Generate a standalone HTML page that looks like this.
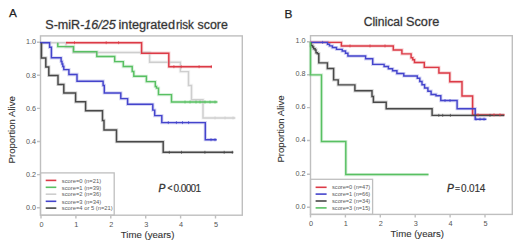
<!DOCTYPE html>
<html><head><meta charset="utf-8"><style>
html,body{margin:0;padding:0;background:#fff;width:520px;height:246px;overflow:hidden}
svg{display:block}
text{font-family:"Liberation Sans",sans-serif}
</style></head><body>
<svg width="520" height="246" viewBox="0 0 520 246">
<rect width="520" height="246" fill="#fff"/>
<text x="9.0" y="17.2" font-size="11.8" fill="#222" stroke="#222" stroke-width="0.25">A</text>
<text x="45.3" y="28.7" font-size="12.3" fill="#333" textLength="70.5" lengthAdjust="spacingAndGlyphs" stroke="#333" stroke-width="0.9" stroke-opacity="0.3">S-miR-<tspan font-style="italic">16/25</tspan></text>
<text x="118.5" y="28.7" font-size="12.3" fill="#333" textLength="56.5" lengthAdjust="spacingAndGlyphs" stroke="#333" stroke-width="0.9" stroke-opacity="0.3">integrated</text>
<text x="175.9" y="28.7" font-size="12.3" fill="#333" textLength="18" lengthAdjust="spacingAndGlyphs" stroke="#333" stroke-width="0.9" stroke-opacity="0.3">risk</text>
<text x="197.5" y="28.7" font-size="12.3" fill="#333" textLength="30.3" lengthAdjust="spacingAndGlyphs" stroke="#333" stroke-width="0.9" stroke-opacity="0.3">score</text>
<g fill="none" stroke="#bfbfbf" stroke-width="1.4">
<rect x="40.5" y="35.9" width="201.8" height="179.3"/>
<path d="M37.0,42.2H40.5M37.0,75.3H40.5M37.0,108.4H40.5M37.0,141.5H40.5M37.0,174.6H40.5M37.0,207.7H40.5"/>
<path d="M41,215.2V218.39999999999998M75.9,215.2V218.39999999999998M110.8,215.2V218.39999999999998M145.7,215.2V218.39999999999998M180.6,215.2V218.39999999999998M215.5,215.2V218.39999999999998"/>
</g>
<g font-size="7.2" fill="#555" text-anchor="end">
<text x="36.1" y="44.4">1.0</text>
<text x="36.1" y="77.5">0.8</text>
<text x="36.1" y="110.6">0.6</text>
<text x="36.1" y="143.7">0.4</text>
<text x="36.1" y="176.8">0.2</text>
<text x="36.1" y="209.9">0.0</text>
</g><g font-size="7.3" fill="#555" text-anchor="middle">
<text x="41.5" y="227.0">0</text>
<text x="76.4" y="227.0">1</text>
<text x="111.3" y="227.0">2</text>
<text x="146.2" y="227.0">3</text>
<text x="181.1" y="227.0">4</text>
<text x="216.0" y="227.0">5</text>
</g>
<text x="147.6" y="237.9" font-size="9.6" fill="#333" text-anchor="middle" stroke="#333" stroke-width="0.1">Time (years)</text>
<text transform="translate(14.5,129.8) rotate(-90)" font-size="9.6" fill="#333" text-anchor="middle" stroke="#333" stroke-width="0.1">Proportion Alive</text>
<g fill="#333" stroke="#333"><text x="158.5" y="191.9" font-size="10.3" font-style="italic" stroke-width="0.35">P</text><text x="167.4" y="191.0" font-size="8.3" stroke-width="0.3">&lt;</text><text x="173.6" y="191.9" font-size="10.1" stroke-width="0.15" textLength="27.6" lengthAdjust="spacing">0.0001</text></g>
<rect x="40.5" y="172.9" width="73.7" height="42.3" fill="none" stroke="#bfbfbf" stroke-width="1.3"/>
<path d="M45.7,180.4H56.3" stroke="#dc3a46" stroke-width="1.6"/>
<text x="61.8" y="182.6" font-size="5.8" fill="#5a5a5a">score=0 (n=21)</text>
<path d="M45.7,187.3H56.3" stroke="#58c062" stroke-width="1.6"/>
<text x="61.8" y="189.5" font-size="5.8" fill="#5a5a5a">score=1 (n=39)</text>
<path d="M45.7,194.2H56.3" stroke="#cecece" stroke-width="1.6"/>
<text x="61.8" y="196.4" font-size="5.8" fill="#5a5a5a">score=2 (n=36)</text>
<path d="M45.7,201.3H56.3" stroke="#4444cc" stroke-width="1.6"/>
<text x="61.8" y="203.5" font-size="5.8" fill="#5a5a5a">score=3 (n=34)</text>
<path d="M45.7,208.1H56.3" stroke="#484848" stroke-width="1.6"/>
<text x="61.8" y="210.3" font-size="5.8" fill="#5a5a5a">score=4 or 5 (n=21)</text>
<g transform="translate(0,0.4)">
<g fill="none" stroke-width="3.3" stroke-opacity="0.22">
<path stroke="#cecece" d="M40,42.3H66V46.6H73.5V52H149.6V61.8H180.4V71.2H188.5V85H191.5V99.3H203V117.5H235.3"/>
<path stroke="#dc3a46" d="M66,42.3H141.6V52.8H168.8V66.3H212"/>
<path stroke="#58c062" d="M57.8,42.3V46.2H73.5V51.4H96.8V56H114.7V61.2H123.3V66.1H132.2V71H133.8V75.9H146.4V81.2H155.3V86H156.5V87.7H158.5V94.2H171.5V101.6H217.4"/>
<path stroke="#4444cc" d="M40,42.3H49.6V46.9H51.4V57.4H61.1V61H62V63.5H62.8V66H63.8V69.2H68.9V74.1H77V80.8H103.1V85H104.3V92.5H120.8V98.2H127.6V103.9H152.8V109.7H154.7V115.2H161.8V122.2H205.3V139.3H216.7"/>
<path stroke="#484848" d="M41.5,42.3V57.5H45.8V66.5H48.8V75H58V84H63.8V92.6H75.6V101.4H85.6V110.3H102.5V120H104V129.5H116.5V141.3H163.2V151.9H233.3"/>
</g>
<g fill="none" stroke-width="1.45">
<path stroke="#cecece" d="M40,42.3H66V46.6H73.5V52H149.6V61.8H180.4V71.2H188.5V85H191.5V99.3H203V117.5H235.3"/>
<path stroke="#dc3a46" d="M66,42.3H141.6V52.8H168.8V66.3H212"/>
<path stroke="#58c062" d="M57.8,42.3V46.2H73.5V51.4H96.8V56H114.7V61.2H123.3V66.1H132.2V71H133.8V75.9H146.4V81.2H155.3V86H156.5V87.7H158.5V94.2H171.5V101.6H217.4"/>
<path stroke="#4444cc" d="M40,42.3H49.6V46.9H51.4V57.4H61.1V61H62V63.5H62.8V66H63.8V69.2H68.9V74.1H77V80.8H103.1V85H104.3V92.5H120.8V98.2H127.6V103.9H152.8V109.7H154.7V115.2H161.8V122.2H205.3V139.3H216.7"/>
<path stroke="#484848" d="M41.5,42.3V57.5H45.8V66.5H48.8V75H58V84H63.8V92.6H75.6V101.4H85.6V110.3H102.5V120H104V129.5H116.5V141.3H163.2V151.9H233.3"/>
</g>
<g fill="none" stroke-width="0.9" stroke-opacity="0.8">
<path stroke="#dc3a46" d="M74.5,40.8V43.8M106.2,40.8V43.8M118.6,40.8V43.8M173.9,64.8V67.8M181.2,64.8V67.8M199.1,64.8V67.8M211.3,64.8V67.8"/>
<path stroke="#58c062" d="M185,100.1V103.1M190,100.1V103.1M196,100.1V103.1M200,100.1V103.1M205,100.1V103.1M210,100.1V103.1M215,100.1V103.1"/>
<path stroke="#cecece" d="M215,116.0V119.0M225,116.0V119.0M233,116.0V119.0"/>
<path stroke="#4444cc" d="M168.3,120.7V123.7M176.4,120.7V123.7M182.5,120.7V123.7M188.6,120.7V123.7M211,137.8V140.8M215,137.8V140.8"/>
<path stroke="#484848" d="M169.3,150.4V153.4M181.5,150.4V153.4M204.9,150.4V153.4M224.2,150.4V153.4M232.3,150.4V153.4"/>
</g></g>
<text x="284.6" y="18.3" font-size="11.8" fill="#222" stroke="#222" stroke-width="0.25">B</text>
<text x="363.7" y="26.0" font-size="12.3" fill="#333" textLength="39" lengthAdjust="spacingAndGlyphs" stroke="#333" stroke-width="0.9" stroke-opacity="0.3">Clinical</text>
<text x="406" y="26.0" font-size="12.3" fill="#333" textLength="33.2" lengthAdjust="spacingAndGlyphs" stroke="#333" stroke-width="0.9" stroke-opacity="0.3">Score</text>
<g fill="none" stroke="#bfbfbf" stroke-width="1.4">
<rect x="310.5" y="35.7" width="201.8" height="178.7"/>
<path d="M307.0,41.8H310.5M307.0,74.7H310.5M307.0,107.6H310.5M307.0,140.5H310.5M307.0,174.2H310.5M307.0,207.3H310.5"/>
<path d="M310.5,214.4V217.6M345.4,214.4V217.6M380.3,214.4V217.6M415.2,214.4V217.6M450.1,214.4V217.6M485,214.4V217.6"/>
</g>
<g font-size="7.2" fill="#555" text-anchor="end">
<text x="305.6" y="43.4">1.0</text>
<text x="305.6" y="76.3">0.8</text>
<text x="305.6" y="109.2">0.6</text>
<text x="305.6" y="142.1">0.4</text>
<text x="305.6" y="175.8">0.2</text>
<text x="305.6" y="208.9">0.0</text>
</g><g font-size="7.3" fill="#555" text-anchor="middle">
<text x="311.0" y="225.9">0</text>
<text x="345.9" y="225.9">1</text>
<text x="380.8" y="225.9">2</text>
<text x="415.7" y="225.9">3</text>
<text x="450.6" y="225.9">4</text>
<text x="485.5" y="225.9">5</text>
</g>
<text x="417.3" y="236.8" font-size="9.6" fill="#333" text-anchor="middle" stroke="#333" stroke-width="0.1">Time (years)</text>
<text transform="translate(284.3,129.0) rotate(-90)" font-size="9.6" fill="#333" text-anchor="middle" stroke="#333" stroke-width="0.1">Proportion Alive</text>
<g fill="#333" stroke="#333"><text x="446.9" y="191.6" font-size="10.3" font-style="italic" stroke-width="0.35">P</text><text x="455.0" y="191.4" font-size="8.6" stroke-width="0.2">=</text><text x="461.1" y="191.6" font-size="10.0" stroke-width="0.15" textLength="24.2" lengthAdjust="spacing">0.014</text></g>
<rect x="310.5" y="179.3" width="62.1" height="35.1" fill="none" stroke="#bfbfbf" stroke-width="1.3"/>
<path d="M315.6,187.3H326.6" stroke="#dc3a46" stroke-width="1.6"/>
<text x="332" y="189.3" font-size="5.65" fill="#5a5a5a">score=0 (n=47)</text>
<path d="M315.6,194.1H326.6" stroke="#4444cc" stroke-width="1.6"/>
<text x="332" y="196.1" font-size="5.65" fill="#5a5a5a">score=1 (n=66)</text>
<path d="M315.6,201H326.6" stroke="#484848" stroke-width="1.6"/>
<text x="332" y="203.0" font-size="5.65" fill="#5a5a5a">score=2 (n=34)</text>
<path d="M315.6,207.9H326.6" stroke="#58c062" stroke-width="1.6"/>
<text x="332" y="209.9" font-size="5.65" fill="#5a5a5a">score=3 (n=15)</text>
<g transform="translate(0,0.15)">
<g fill="none" stroke-width="3.3" stroke-opacity="0.22">
<path stroke="#dc3a46" d="M310.5,42.2H341.4V45.8H393.3V49.8H401.9V53.7H411.1V57.6H412.8V59.5H414.5V62.3H424.3V67.2H438.9V72.8H449.8V81.6H462V95.9H472.6V114.7H504.6"/>
<path stroke="#4444cc" d="M310.5,42.2H327.5V44.1H329.5V45.7H332.4V47.4H336.5V49.2H342.2V50.9H345.5V53.1H347.9V55.9H365.6V58.6H372.7V64.2H384.1V66.3H388.4V68.5H392.6V70.6H396.9V73.4H403.8V75.8H417.3V78H419.8V81.3H422V84.5H424.6V87.8H427.9V91H431.1V94.3H436V95.5H440.8V100.4H457.1V108.5H475.2V119H486.4"/>
<path stroke="#484848" d="M311,42V45.4H312.6V46.8H313.6V48.5H315.1V49.8H316V52.5H317.4V53.5H318.8V62.7H327.4V68.4H333.6V79.7H338.2V84.7H354.9V90.6H372V96.3H373.4V102H386.2V108.5H432.1V115.2H504.2"/>
<path stroke="#58c062" d="M310.5,41.8V74.7H321.5V141.4H345.8V174.4H428.5"/>
</g>
<g fill="none" stroke-width="1.45">
<path stroke="#dc3a46" d="M310.5,42.2H341.4V45.8H393.3V49.8H401.9V53.7H411.1V57.6H412.8V59.5H414.5V62.3H424.3V67.2H438.9V72.8H449.8V81.6H462V95.9H472.6V114.7H504.6"/>
<path stroke="#4444cc" d="M310.5,42.2H327.5V44.1H329.5V45.7H332.4V47.4H336.5V49.2H342.2V50.9H345.5V53.1H347.9V55.9H365.6V58.6H372.7V64.2H384.1V66.3H388.4V68.5H392.6V70.6H396.9V73.4H403.8V75.8H417.3V78H419.8V81.3H422V84.5H424.6V87.8H427.9V91H431.1V94.3H436V95.5H440.8V100.4H457.1V108.5H475.2V119H486.4"/>
<path stroke="#484848" d="M311,42V45.4H312.6V46.8H313.6V48.5H315.1V49.8H316V52.5H317.4V53.5H318.8V62.7H327.4V68.4H333.6V79.7H338.2V84.7H354.9V90.6H372V96.3H373.4V102H386.2V108.5H432.1V115.2H504.2"/>
<path stroke="#58c062" d="M310.5,41.8V74.7H321.5V141.4H345.8V174.4H428.5"/>
</g>
<g fill="none" stroke-width="0.9" stroke-opacity="0.8">
<path stroke="#4444cc" d="M322.6,40.7V43.7M445,98.9V101.9M450,98.9V101.9M476,117.5V120.5M480,117.5V120.5M484,117.5V120.5"/>
<path stroke="#484848" d="M438.8,113.7V116.7M442.7,113.7V116.7M450.4,113.7V116.7M490,113.7V116.7"/>
<path stroke="#dc3a46" d="M350,44.3V47.3M370,44.3V47.3M385,44.3V47.3M478,113.2V116.2M494,113.2V116.2M500,113.2V116.2"/>
</g></g>
</svg>
</body></html>
